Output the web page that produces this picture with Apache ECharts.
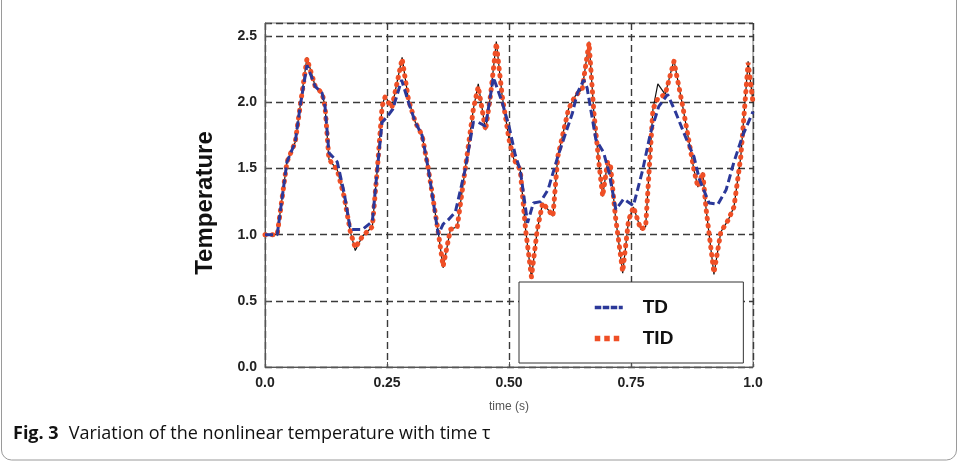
<!DOCTYPE html>
<html>
<head>
<meta charset="utf-8">
<script src="https://cdn.jsdelivr.net/npm/echarts@6/dist/echarts.min.js"></script>
<style>html,body{margin:0;padding:0;background:#fff;}#c{width:959px;height:462px;}</style>
</head>
<body>
<div id="c"></div>
<script>
// ---- data ----
const xTickLabels = ['0.0', '0.25', '0.50', '0.75', '1.0'];
const yTickLabels = ['0.0', '0.5', '1.0', '1.5', '2.0', '2.5'];

const tdTime = [0.0,0.025,0.045,0.062,0.072,0.086,0.103,0.117,0.123,0.131,0.148,0.162,0.175,0.2,0.22,0.23,0.24,0.25,0.262,0.28,0.294,0.308,0.322,0.335,0.355,0.365,0.375,0.39,0.41,0.427,0.437,0.452,0.468,0.486,0.5,0.513,0.523,0.538,0.55,0.565,0.58,0.6,0.63,0.64,0.653,0.66,0.678,0.694,0.705,0.719,0.735,0.755,0.774,0.79,0.807,0.825,0.842,0.866,0.879,0.89,0.91,0.928,0.945,0.961,0.979,1.0];
const tdValues = [1.0,1.0,1.55,1.70,1.97,2.28,2.12,2.07,1.97,1.62,1.55,1.32,1.04,1.04,1.10,1.49,1.85,1.89,1.95,2.17,2.0,1.85,1.75,1.49,1.0,1.08,1.11,1.17,1.49,1.85,1.85,1.82,2.19,2.0,1.82,1.6,1.49,1.09,1.24,1.25,1.34,1.59,1.92,2.07,2.17,2.11,1.72,1.62,1.47,1.19,1.27,1.22,1.49,1.77,1.97,2.06,1.92,1.70,1.59,1.42,1.24,1.23,1.34,1.55,1.75,1.93];

const tidTime = [0.0,0.025,0.045,0.062,0.072,0.086,0.103,0.117,0.123,0.131,0.148,0.162,0.175,0.185,0.2,0.22,0.23,0.24,0.246,0.26,0.281,0.294,0.308,0.322,0.335,0.355,0.365,0.38,0.394,0.41,0.427,0.437,0.452,0.462,0.474,0.486,0.5,0.51,0.523,0.534,0.546,0.558,0.569,0.58,0.59,0.6,0.622,0.636,0.65,0.664,0.674,0.684,0.692,0.702,0.708,0.718,0.733,0.745,0.755,0.77,0.78,0.795,0.805,0.82,0.838,0.856,0.869,0.879,0.887,0.897,0.904,0.92,0.934,0.949,0.961,0.975,0.99,1.0];
const tidValues = [1.0,1.0,1.55,1.70,1.97,2.33,2.12,2.07,1.97,1.57,1.49,1.29,1.02,0.90,0.99,1.06,1.49,1.97,2.04,1.96,2.33,2.02,1.85,1.75,1.49,1.02,0.76,1.04,1.06,1.49,1.95,2.12,1.79,2.05,2.45,2.05,1.72,1.57,1.49,1.04,0.68,1.04,1.24,1.19,1.14,1.59,1.95,2.05,2.10,2.45,1.92,1.55,1.29,1.55,1.52,1.14,0.72,1.11,1.21,1.04,1.06,1.95,2.03,2.06,2.31,1.97,1.70,1.49,1.36,1.47,1.19,0.71,1.02,1.11,1.21,1.59,2.30,2.0];

// thin black reference curve lying under TID
const refTime = tidTime;
const refValues = [1.0,1.0,1.55,1.70,1.97,2.34,2.12,2.07,1.97,1.57,1.49,1.29,1.02,0.88,0.99,1.06,1.49,1.97,2.05,1.96,2.34,2.02,1.85,1.75,1.49,1.02,0.75,1.04,1.06,1.49,1.95,2.14,1.79,2.05,2.46,2.05,1.72,1.57,1.49,1.04,0.67,1.04,1.24,1.19,1.14,1.59,1.95,2.05,2.10,2.46,1.92,1.55,1.29,1.55,1.52,1.14,0.71,1.11,1.21,1.04,1.06,1.95,2.14,2.06,2.32,1.97,1.70,1.49,1.36,1.47,1.19,0.70,1.02,1.11,1.21,1.59,2.31,2.0];

const pairs = (xs, ys) => xs.map((x, i) => [x, ys[i]]);

const BLUE = '#2b3899', ORANGE = '#ef4f26';
const tdLine = {color: BLUE, width: 3, type: [8, 4]};
const tidLine = {color: ORANGE, width: 5, type: [0.5, 6.8], cap: 'round'};

const chart = echarts.init(document.getElementById('c'), null, {renderer: 'canvas'});
const gridLine = {show: true, lineStyle: {color: '#3a3a3a', type: [7, 4], width: 1.4}};
const labelFont = {fontFamily: "'Liberation Sans', Arial, sans-serif", fontWeight: 'bold', fontSize: 14, color: '#222'};

chart.setOption({
  animation: false,
  backgroundColor: '#fff',
  grid: {left: 265, right: 206, top: 23, bottom: 95, show: true, borderColor: '#777', borderWidth: 1},
  xAxis: {
    type: 'value', min: 0, max: 1, interval: 0.25,
    name: 'time (s)', nameLocation: 'middle', nameGap: 34,
    nameTextStyle: {fontFamily: "'Liberation Sans', Arial, sans-serif", fontSize: 12, color: '#555'},
    axisLine: {show: true, lineStyle: {color: '#555'}},
    axisTick: {show: true, inside: true, length: 5, lineStyle: {color: '#555'}},
    axisLabel: Object.assign({margin: 9, formatter: v => xTickLabels[Math.round(v / 0.25)] || ''}, labelFont),
    splitLine: gridLine
  },
  yAxis: {
    type: 'value', min: 0, max: 2.6, interval: 0.5,
    name: 'Temperature', nameLocation: 'middle', nameGap: 48,
    nameTextStyle: {fontFamily: "'Liberation Sans', Arial, sans-serif", fontSize: 24, fontWeight: 'bold', color: '#111', padding: [0, 16, 0, 0]},
    axisLine: {show: true, lineStyle: {color: '#555'}},
    axisTick: {show: true, inside: true, length: 5, lineStyle: {color: '#555'}},
    axisLabel: Object.assign({margin: 8, formatter: v => {
      const k = v / 0.5; return Math.abs(k - Math.round(k)) < 1e-6 ? (yTickLabels[Math.round(k)] || '') : '';
    }}, labelFont),
    splitLine: gridLine
  },
  legend: {
    left: 519, top: 282, orient: 'vertical',
    backgroundColor: '#fff', borderColor: '#333', borderWidth: 1, borderRadius: 0,
    padding: [16, 70, 15, 73], itemGap: 12, itemWidth: 28, itemHeight: 18,
    itemStyle: {opacity: 0},
    data: [
      {name: 'TD', lineStyle: {color: BLUE, width: 3.5, type: [6.5, 1.5]}},
      {name: 'TID', lineStyle: {color: ORANGE, width: 5.5, type: [5.5, 4], cap: 'butt'}}
    ],
    textStyle: {fontFamily: "'Liberation Sans', Arial, sans-serif", fontSize: 19, fontWeight: 'bold', color: '#111', padding: [0, 0, 0, 15]}
  },
  title: {
    left: 8, top: 420,
    text: '{b|Fig. 3}  {n|Variation of the nonlinear temperature with time τ}',
    textStyle: {
      rich: {
        b: {fontFamily: "'Open Sans', 'Noto Sans', sans-serif", fontWeight: 'bold', fontSize: 18, color: '#111'},
        n: {fontFamily: "'Open Sans', 'Noto Sans', sans-serif", fontWeight: 'normal', fontSize: 18, color: '#111'}
      }
    }
  },
  graphic: [{
    type: 'rect', silent: true, z: -1,
    shape: {x: 1.5, y: -12, width: 955, height: 472, r: 10},
    style: {fill: 'none', stroke: '#9a9a9a', lineWidth: 1}
  }],
  series: [
    {
      name: 'ref', type: 'line', data: pairs(refTime, refValues), symbol: 'none', z: 1,
      lineStyle: {color: '#111', width: 1.2}
    },
    {
      name: 'TD', type: 'line', data: pairs(tdTime, tdValues), symbol: 'none', z: 3,
      lineStyle: tdLine, itemStyle: {color: BLUE}
    },
    {
      name: 'TID', type: 'line', data: pairs(tidTime, tidValues), symbol: 'none', z: 2,
      lineStyle: tidLine, itemStyle: {color: ORANGE}
    }
  ]
});
</script>
</body>
</html>
